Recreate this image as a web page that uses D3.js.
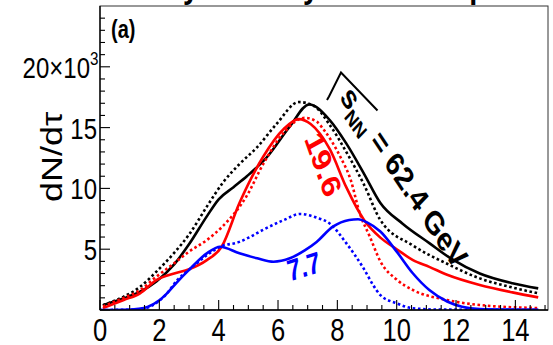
<!DOCTYPE html>
<html><head><meta charset="utf-8">
<script src="https://cdn.jsdelivr.net/npm/d3@7"></script>
<style>
body{margin:0;background:#fff;}
svg{display:block;}
text{font-family:"Liberation Sans",Arial,Helvetica,sans-serif;}
</style>
</head><body>
<svg id="c" width="553" height="345"></svg>
<script>
// ---- data (tau in fm/c, dN/dtau in units of 10^3) ----
const tauBlackSolid = [0.1,0.8,1.35,1.9,2.5,3.0,3.6,4.0,4.5,4.95,5.6,6.4,7.05,7.75,8.3,8.9,9.45,10.2,11.1,11.85,12.8,13.9,14.77];
const dnBlackSolid  = [0.4,0.96,1.5,2.35,3.75,5.4,7.7,9.1,10.1,11.0,12.5,15.1,16.9,15.6,13.7,11.2,8.8,7.1,5.5,4.2,3.0,2.2,1.78];

const tauBlackDot = [0.1,0.8,1.35,1.9,2.5,3.0,3.6,4.15,4.7,5.3,5.95,6.7,7.2,7.75,8.3,8.9,9.45,10.55,11.7,12.8,13.9,14.77];
const dnBlackDot  = [0.4,1.1,1.9,3.15,4.7,6.2,8.5,10.5,12.0,13.4,15.3,17.1,16.8,15.2,13.0,10.3,7.4,5.3,3.8,2.6,1.85,1.37];

const tauRedSolid = [0.1,0.8,1.35,1.9,2.5,3.0,3.6,4.1,4.7,5.5,6.2,6.7,7.1,7.75,8.3,8.9,9.45,10.0,10.55,11.1,11.7,12.8,13.9,14.77];
const dnRedSolid  = [0.15,0.82,1.37,2.45,3.0,3.35,4.1,5.2,8.8,12.6,14.9,15.7,15.3,13.2,10.1,7.4,5.95,5.0,4.1,3.55,2.9,2.06,1.45,1.04];

const tauRedDot = [0.1,0.8,1.35,1.9,2.5,3.0,3.6,4.1,4.95,5.5,6.2,6.9,7.3,7.55,8.1,8.45,8.75,9.1,9.45,10.0,10.55,11.7,12.8,14.77];
const dnRedDot  = [0.3,1.0,1.64,2.74,3.84,4.8,5.75,6.8,9.4,12.0,14.6,15.8,15.5,14.8,12.6,10.7,8.0,6.0,4.0,2.5,1.64,0.82,0.41,0.16];

const tauBlueSolid = [0,0.8,1.3,1.6,2.0,2.25,2.6,3.0,3.6,4.05,4.7,5.3,5.85,6.4,6.9,7.3,7.85,8.4,8.7,9.0,9.45,10.0,10.55,11.1,11.7,12.2,12.8,14.77];
const dnBlueSolid  = [0,0.02,0.1,0.25,0.8,1.35,2.3,3.3,4.66,5.2,4.66,4.25,3.97,4.25,4.9,5.6,6.85,7.4,7.46,7.2,6.45,4.8,3.0,1.64,0.7,0.27,0.08,0.02];

const tauBlueDot = [0,0.8,1.3,1.7,2.2,2.6,3.0,3.6,4.05,4.7,5.05,5.5,6.2,6.75,7.3,7.75,8.3,8.85,9.3,9.45,10.0,10.55,11.5,14.77];
const dnBlueDot  = [0,0.02,0.05,0.3,1.2,2.45,3.3,4.5,5.2,5.6,6.0,6.6,7.4,7.9,7.6,7.1,5.5,3.56,1.7,1.23,0.55,0.14,0.03,0.02];

const xTicks = [0,2,4,6,8,10,12,14];
const yTicks = [5,10,15,20];
const yTickLabels = ["5","10","15","20×10"];
const seriesNames = ["62.4 hydro","62.4 dotted","19.6 hydro","19.6 dotted","7.7 hydro","7.7 dotted"];
const seriesColors = ["#000000","#000000","#ff0000","#ff0000","#0000ff","#0000ff"];
const seriesDashed = [false,true,false,true,false,true];
const seriesTau = [tauBlackSolid,tauBlackDot,tauRedSolid,tauRedDot,tauBlueSolid,tauBlueDot];
const seriesDn  = [dnBlackSolid,dnBlackDot,dnRedSolid,dnRedDot,dnBlueSolid,dnBlueDot];

// ---- chart ----
const svg = d3.select("#c");
const L=100, R=548, T=6, B=310;
const K = 0.8; // horizontal text compression
const x = d3.scaleLinear().domain([0,15.1]).range([L,R]);
const y = d3.scaleLinear().domain([0,25]).range([B,T]);

svg.append("defs").append("clipPath").attr("id","clip")
  .append("rect").attr("x",L).attr("y",T).attr("width",R-L).attr("height",B-T);

// clipped title (only descenders visible above the frame)
const titleG = svg.append("g").attr("font-weight","bold").attr("font-size",36).attr("fill","#000");
[["y",191],["y",311],["p",478]].forEach(([t,px])=>{
  titleG.append("text").attr("transform",`translate(${px},-2) scale(${K},1)`).attr("text-anchor","middle").text(t);
});

// frame
svg.append("rect").attr("x",L).attr("y",T).attr("width",R-L).attr("height",B-T)
  .attr("fill","none").attr("stroke","#333").attr("stroke-width",1);

// curves
const line = d3.line().x(d=>x(d[0])).y(d=>y(d[1])).curve(d3.curveMonotoneX);
const cg = svg.append("g").attr("clip-path","url(#clip)");
seriesNames.forEach((n,i)=>{
  const pts = seriesTau[i].map((t,j)=>[t,seriesDn[i][j]]);
  cg.append("path").datum(pts).attr("d",line)
    .attr("fill","none").attr("stroke",seriesColors[i]).attr("stroke-width",2.6)
    .attr("stroke-dasharray",seriesDashed[i]?"2.6,2.6":null);
});

// axes lines
svg.append("line").attr("x1",L).attr("x2",L).attr("y1",T).attr("y2",B).attr("stroke","#000").attr("stroke-width",1.3);
svg.append("line").attr("x1",L).attr("x2",R).attr("y1",B).attr("y2",B).attr("stroke","#000").attr("stroke-width",1.3);

// ticks (inside)
const tk = svg.append("g").attr("stroke","#000").attr("stroke-width",1.1);
d3.range(0,15.01,0.5).forEach(v=>{
  const major = Math.abs(v/2-Math.round(v/2))<1e-6;
  tk.append("line").attr("x1",x(v)).attr("x2",x(v)).attr("y1",B).attr("y2",B-(major?10:5));
});
d3.range(0,25,1).forEach(v=>{
  const major = v%5===0;
  tk.append("line").attr("x1",L).attr("x2",L+(major?10:5)).attr("y1",y(v)).attr("y2",y(v));
});

// tick labels
xTicks.forEach(v=>{
  svg.append("text").attr("transform",`translate(${x(v)},341) scale(${K},1)`)
    .attr("text-anchor","middle").attr("font-size",32).text(v);
});
yTicks.forEach((v,i)=>{
  const endX = i===yTicks.length-1 ? 90 : 97;
  svg.append("text").attr("transform",`translate(${endX},${y(v)+11}) scale(${K},1)`)
    .attr("text-anchor","end").attr("font-size",30).text(yTickLabels[i]);
});
svg.append("text").attr("transform",`translate(90,${y(20)-2}) scale(${K},1)`)
  .attr("font-size",19).text("3");

// axis title
svg.append("text").attr("transform",`translate(62,157) scale(${K},1) rotate(-90)`)
  .attr("text-anchor","middle").attr("font-size",36).text("dN/dτ");

// panel label
svg.append("text").attr("transform",`translate(111,38) scale(${K},1)`)
  .attr("font-size",25).attr("font-weight","bold").text("(a)");

// energy label with square root
const ax0 = 339, ay0 = 98;
const eg = svg.append("g").attr("transform",`translate(${ax0},${ay0}) scale(${K},1) rotate(50)`);
const et = eg.append("text").attr("font-size",33).attr("font-weight","bold").attr("fill","#000");
et.append("tspan").text("s");
et.append("tspan").attr("font-size",21).attr("dy",8).text("NN");
et.append("tspan").attr("dy",-8).text(" = 62.4 GeV");
svg.append("path")
  .attr("d",`M${ax0-12},${ay0+2} L${ax0-10},${ay0-1.5} L${ax0+2},${ay0-25.5} L${ax0+38.5},${ay0+12.5}`)
  .attr("fill","none").attr("stroke","#000").attr("stroke-width",2);

// 19.6 label
svg.append("text").attr("transform",`translate(304,139) scale(${K},1) rotate(66)`)
  .attr("font-size",34).attr("font-weight","bold").attr("fill","#ff0000").text("19.6");

// 7.7 label
svg.append("text").attr("transform",`translate(289.6,281.5) scale(${K},1) rotate(-14)`)
  .attr("font-size",30).attr("font-weight","bold").attr("fill","#0000ff").text("7.7");
</script>
</body></html>
